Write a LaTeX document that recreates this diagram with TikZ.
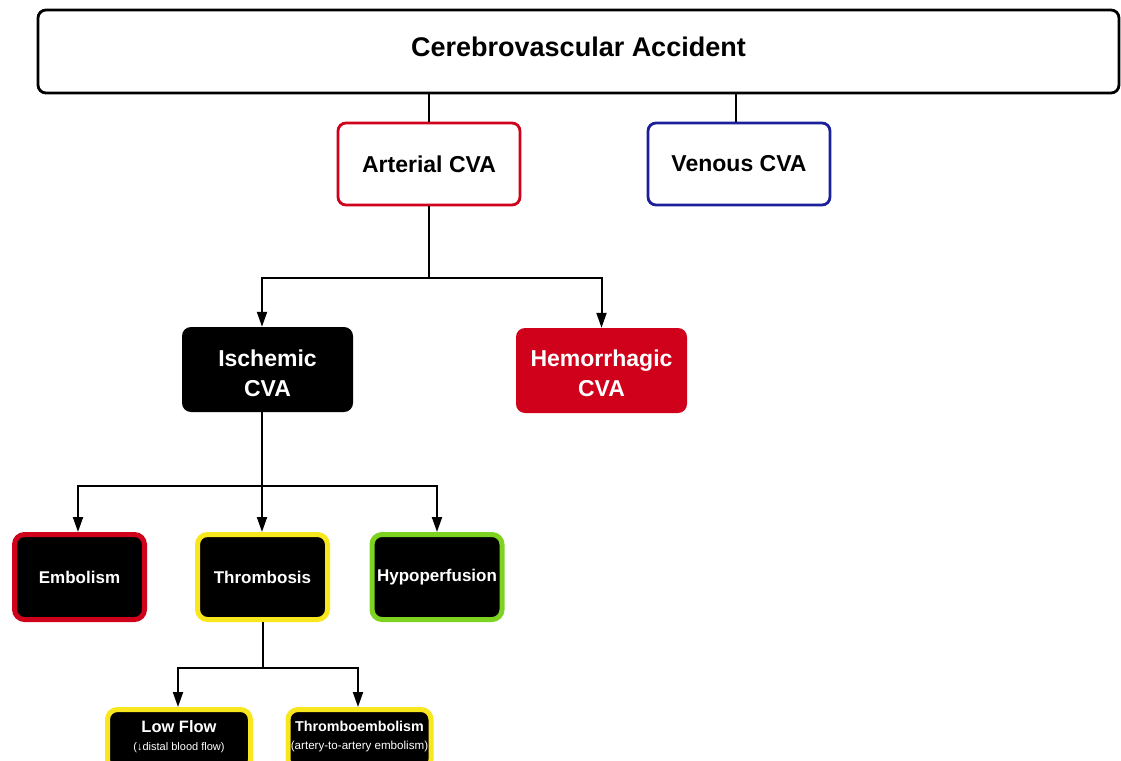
\documentclass[tikz,border=0pt]{standalone}
\usepackage{fontspec}
\setmainfont{Liberation Sans}
\usetikzlibrary{arrows.meta,calc}
\definecolor{cvared}{HTML}{D0021B}
\definecolor{cvablue}{HTML}{1C1F9A}
\definecolor{cvayellow}{HTML}{F8E71C}
\definecolor{cvagreen}{HTML}{7ED321}
\begin{document}
\begin{tikzpicture}[x=1pt,y=-1pt,
  conn/.style={line width=2pt},
  thinconn/.style={line width=1.6pt},
  arr/.style={conn,-{Triangle[length=15pt,width=10pt]}},
  whitebox/.style={draw,line width=2.8pt,rounded corners=8pt,fill=white,inner sep=2pt,
    font=\bfseries\fontsize{23}{28}\selectfont,align=center},
  midbox/.style={fill,rounded corners=9pt,inner sep=0pt,
    minimum width=171pt,minimum height=85pt},
  midtext/.style={text=white,align=center,inner sep=0pt,font=\bfseries\fontsize{23}{30}\selectfont},
  lowbox/.style={draw,fill=black,line width=5pt,rounded corners=10pt,inner sep=1pt,text=white,
    align=center,minimum width=130pt,minimum height=85pt,font=\bfseries\fontsize{17}{20}\selectfont},
  leafbox/.style={draw=cvayellow,fill=black,line width=5pt,rounded corners=10pt,inner sep=0pt,
    minimum width=143pt,minimum height=60pt},
  leaftext/.style={text=white,align=center,inner sep=0pt,font=\fontsize{11}{18}\selectfont}
]
\useasboundingbox (0,0) rectangle (1121,760);

\node[whitebox,minimum width=1081pt,minimum height=83pt] (cva) at (578.5,51.5) {};
\node[font=\bfseries\fontsize{27}{32}\selectfont,inner sep=0pt] (cvat) at (578.5,46.5) {Cerebrovascular Accident};
\node[whitebox,draw=cvared,minimum width=182pt,minimum height=82pt] (art) at (429,164) {Arterial CVA};
\node[whitebox,draw=cvablue,minimum width=182pt,minimum height=82pt] (ven) at (739,164) {Venous CVA};

\node[midbox,fill=black] (isch) at (267.5,369.5) {};
\node[midtext] (ischt) at (267.5,373.5) {Ischemic\\CVA};
\node[midbox,fill=cvared] (hem) at (601.5,370.5) {};
\node[midtext] (hemt) at (601.5,373.5) {Hemorrhagic\\CVA};

\node[lowbox,draw=cvared] (emb) at (79.5,577) {Embolism};
\node[lowbox,draw=cvayellow] (thr) at (262.5,577) {Thrombosis};
\node[lowbox,draw=cvagreen] (hyp) at (437,577) {Hypoperfusion};

\node[leafbox] (low) at (179,739.5) {};
\node[leaftext] (lowt) at (179,737)
  {{\bfseries\fontsize{16.5}{18}\selectfont Low Flow}\\(↓distal blood flow)};
\node[leafbox] (temb) at (359.5,739.5) {};
\node[leaftext,font=\fontsize{11.6}{18}\selectfont] (tembt) at (359.5,737)
  {{\bfseries\fontsize{14.3}{18}\selectfont Thromboembolism}\\(artery-to-artery embolism)};

% connectors
\draw[thinconn] (cva.south -| art.north) -- (art.north);
\draw[thinconn] (cva.south -| ven.north) ++(-3,0) coordinate (vtop) -- (vtop |- ven.north);

\coordinate (j1) at (429,278);
\draw[conn] (art.south) -- (j1);
\draw[arr] (j1) -| ([xshift=-5.5pt]isch.north);
\draw[arr] (j1) -| (hem.north);

\coordinate (j2) at (262,486);
\draw[conn] ([xshift=-5.5pt]isch.south) -- (j2);
\draw[arr] (j2) -| ([xshift=-1.5pt]emb.north);
\draw[arr] (j2) -- (j2 |- thr.north);
\draw[arr] (j2) -| (hyp.north);

\coordinate (j3) at (263,668);
\draw[conn] (j3 |- thr.south) -- (j3);
\draw[arr] (j3) -| ([xshift=-1pt]low.north);
\draw[arr] (j3) -| ([xshift=-1.5pt]temb.north);
\end{tikzpicture}
\end{document}
